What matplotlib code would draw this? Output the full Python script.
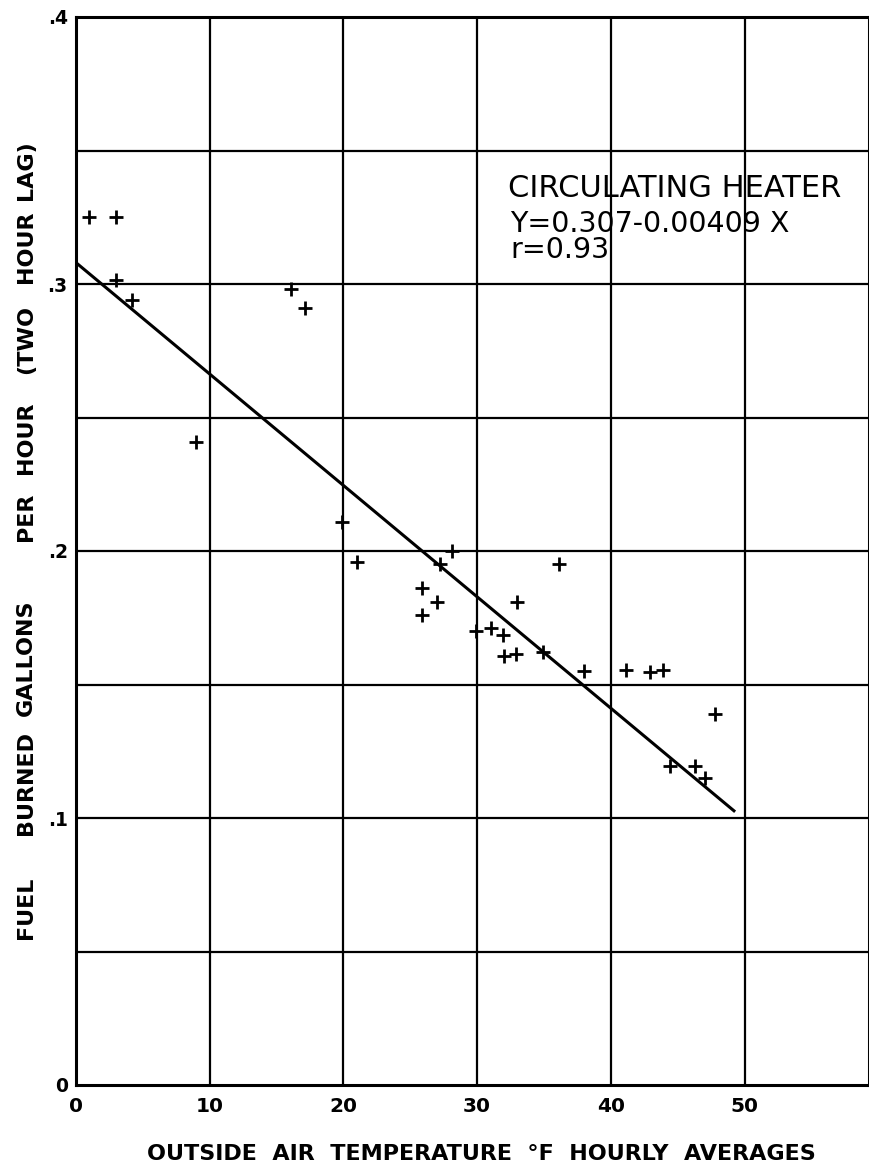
import matplotlib
matplotlib.use("Agg")
import matplotlib.pyplot as plt

# outside air temperature (deg F) and fuel burned (gal/hr)
temp = [1.0, 3.0, 3.0, 4.2, 9.0, 16.1, 17.1, 19.9, 21.0, 25.9, 25.9, 27.0, 27.2,
        28.1, 29.9, 31.0, 31.9, 32.0, 32.9, 33.0, 34.9, 36.1, 38.0, 41.1, 42.9,
        43.9, 44.4, 46.3, 47.0, 47.8]
fuel = [0.325, 0.325, 0.3015, 0.294, 0.241, 0.298, 0.291, 0.211, 0.196, 0.186,
        0.176, 0.181, 0.195, 0.200, 0.170, 0.171, 0.1685, 0.1605, 0.1615, 0.181,
        0.162, 0.195, 0.155, 0.1555, 0.1545, 0.1555, 0.1195, 0.1195, 0.115, 0.139]

# regression line as drawn
line_x = [0, 49.2]
line_y = [0.308, 0.1027]

xticks = [0, 10, 20, 30, 40, 50]
xtick_labels = ["0", "10", "20", "30", "40", "50"]
yticks = [0, 0.1, 0.2, 0.3, 0.4]
ytick_labels = ["0", ".1", ".2", ".3", ".4"]

# hand lettered y label, words are spaced unevenly
ylabel_words = ["FUEL", "BURNED", "GALLONS", "PER", "HOUR", "(TWO", "HOUR", "LAG)"]
ylabel_pos = [908, 783, 658, 517, 438, 340, 247, 170]  # pixel centre from top

W, H = 869, 1162
fig = plt.figure(figsize=(W / 100, H / 100), dpi=100)
ax = fig.add_axes([76 / W, 1 - 1085 / H, 1 - 76 / W, (1085 - 17) / H])

ax.set_xlim(0, 59.3)
ax.set_ylim(0, 0.4)

# grid every 10 deg and every .05 gal
for gx in [10, 20, 30, 40, 50]:
    ax.axvline(gx, color="black", lw=1.6, zorder=1)
for gy in [0.05, 0.1, 0.15, 0.2, 0.25, 0.3, 0.35]:
    ax.axhline(gy, color="black", lw=1.6, zorder=1)

ax.plot(line_x, line_y, color="black", lw=2.2, zorder=2)
ax.plot(temp, fuel, linestyle="none", marker="+", color="black",
        markersize=10, markeredgewidth=2.0, zorder=3)

for s in ax.spines.values():
    s.set_linewidth(2.2)

ax.set_xticks(xticks)
ax.set_xticklabels(xtick_labels, fontsize=14.5, fontweight="bold")
ax.set_yticks(yticks)
ax.set_yticklabels(ytick_labels, fontsize=13.5, fontweight="bold")
ax.tick_params(axis="x", length=0, pad=9)
ax.tick_params(axis="y", length=0, pad=6)

# equation box text
fig.text(508 / W, 1 - 197 / H, "CIRCULATING HEATER", fontsize=22,
         ha="left", va="baseline")
fig.text(510 / W, 1 - 232 / H, "Y=0.307-0.00409 X", fontsize=20.5,
         ha="left", va="baseline")
fig.text(510 / W, 1 - 258 / H, "r=0.93", fontsize=20.5,
         ha="left", va="baseline")

fig.text(481 / W, 2 / H, "OUTSIDE  AIR  TEMPERATURE  °F  HOURLY  AVERAGES",
         fontsize=16, fontweight="bold", ha="center", va="baseline")
for word, py in zip(ylabel_words, ylabel_pos):
    fig.text(26 / W, 1 - py / H, word, fontsize=16, fontweight="bold",
             rotation=90, ha="center", va="center")

fig.savefig("out.png", dpi=100)
